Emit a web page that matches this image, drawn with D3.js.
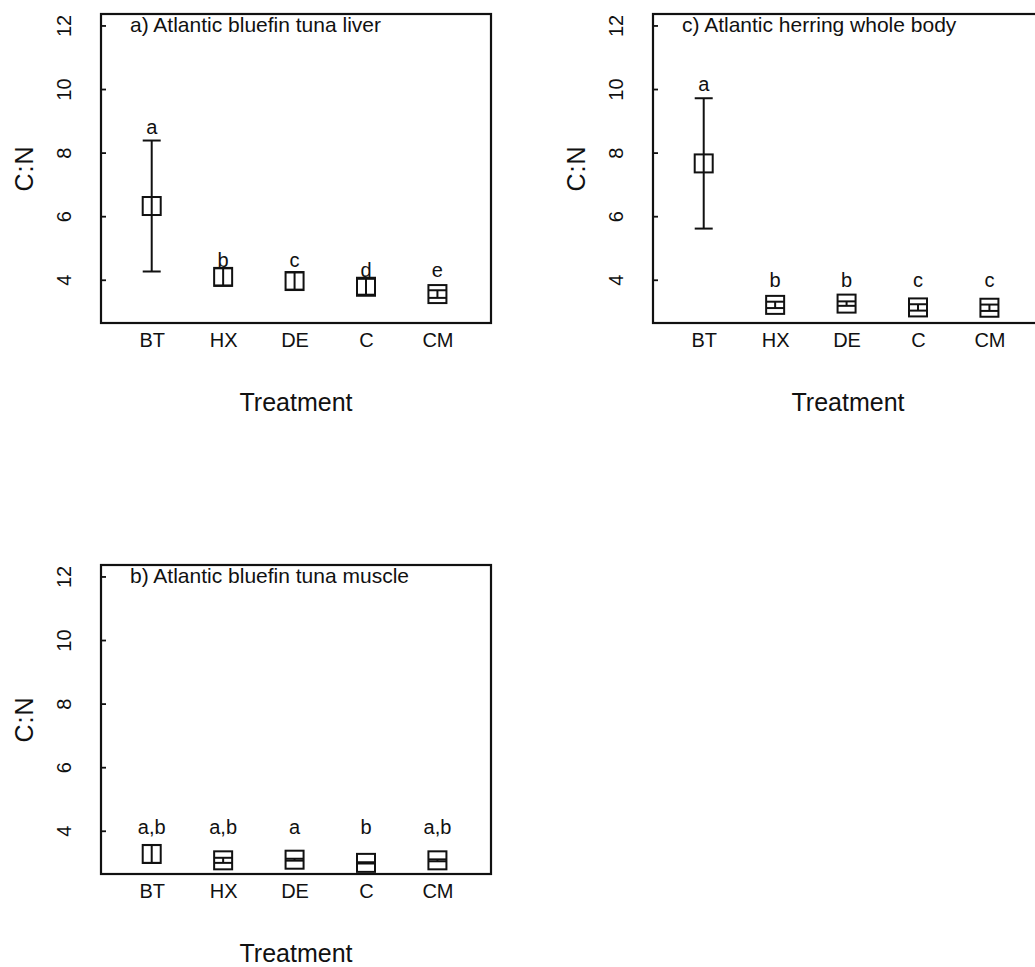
<!DOCTYPE html>
<html>
<head>
<meta charset="utf-8">
<script src="https://cdn.jsdelivr.net/npm/d3@7"></script>
<style>
  html, body { margin: 0; padding: 0; background: #fff; }
  svg { display: block; }
  text { font-family: "Liberation Sans", Arial, sans-serif; fill: #111; }
</style>
</head>
<body>
<svg id="chart" width="1035" height="967"></svg>
<script>
// Treatments shared by every panel
const treatments = ["BT", "HX", "DE", "C", "CM"];
const yTicks = [4, 6, 8, 10, 12];

// a) Atlantic bluefin tuna liver
const liverMean = [6.32, 4.09, 3.96, 3.78, 3.55];
const liverSE = [2.06, 0.27, 0.27, 0.25, 0.12];
const liverLetters = ["a", "b", "c", "d", "e"];
const liverLetterLevel = [8.58, 4.41, 4.41, 4.1, 4.08];

// b) Atlantic bluefin tuna muscle
const muscleMean = [3.27, 3.07, 3.09, 2.99, 3.07];
const muscleSE = [0.28, 0.08, 0.03, 0.02, 0.03];
const muscleLetters = ["a,b", "a,b", "a", "b", "a,b"];
const muscleLetterLevel = [3.9, 3.9, 3.9, 3.9, 3.9];

// c) Atlantic herring whole body
const herringMean = [7.66, 3.21, 3.25, 3.13, 3.12];
const herringSE = [2.05, 0.1, 0.07, 0.1, 0.1];
const herringLetters = ["a", "b", "b", "c", "c"];
const herringLetterLevel = [9.95, 3.78, 3.78, 3.78, 3.78];

const panels = [
  { title: "a) Atlantic bluefin tuna liver", mean: liverMean, se: liverSE,
    letters: liverLetters, letterLevel: liverLetterLevel, left: 101, top: 14 },
  { title: "c) Atlantic herring whole body", mean: herringMean, se: herringSE,
    letters: herringLetters, letterLevel: herringLetterLevel, left: 653, top: 14 },
  { title: "b) Atlantic bluefin tuna muscle", mean: muscleMean, se: muscleSE,
    letters: muscleLetters, letterLevel: muscleLetterLevel, left: 101, top: 565 }
];

const W = 390, H = 309;
const ink = "#111";
const svg = d3.select("#chart");

panels.forEach(p => {
  const g = svg.append("g").attr("transform", `translate(${p.left},${p.top})`);

  const x = d3.scaleLinear().domain([0.29, 5.75]).range([0, W]);
  const y = d3.scaleLinear().domain([2.64, 12.36]).range([H, 0]);

  // y axis: inward ticks, labels rotated as in base R graphics
  const yAxis = d3.axisLeft(y).tickValues(yTicks).tickSize(-5).tickPadding(0)
    .tickFormat(d3.format("d"));
  const ya = g.append("g").call(yAxis);
  ya.select(".domain").remove();
  ya.selectAll(".tick line").attr("stroke", ink).attr("stroke-width", 1.8);
  ya.selectAll(".tick text")
    .attr("x", null).attr("dy", null)
    .attr("transform", "translate(-30,0) rotate(-90)")
    .attr("text-anchor", "middle")
    .attr("font-size", 20)
    .style("font-family", "Liberation Sans, Arial, sans-serif")
    .attr("fill", ink);

  // x axis: category labels only
  const xAxis = d3.axisBottom(x).tickValues(d3.range(1, treatments.length + 1))
    .tickSize(0).tickPadding(0).tickFormat(d => treatments[d - 1]);
  const xa = g.append("g").attr("transform", `translate(0,${H})`).call(xAxis);
  xa.select(".domain").remove();
  xa.selectAll(".tick text")
    .attr("y", 24).attr("dy", null)
    .attr("font-size", 20)
    .style("font-family", "Liberation Sans, Arial, sans-serif")
    .attr("fill", ink);

  // frame
  g.append("rect").attr("x", 0).attr("y", 0).attr("width", W).attr("height", H)
    .attr("fill", "none").attr("stroke", ink).attr("stroke-width", 2.2);

  // axis titles
  g.append("text").attr("x", W / 2).attr("y", H + 88)
    .attr("text-anchor", "middle").attr("font-size", 25).text("Treatment");
  g.append("text")
    .attr("transform", `translate(-68,${H / 2}) rotate(-90)`)
    .attr("text-anchor", "middle").attr("font-size", 25)
    .attr("letter-spacing", 1).text("C:N");

  // panel title
  g.append("text").attr("x", 29).attr("y", 18).attr("font-size", 21).text(p.title);

  const rows = treatments.map((t, i) => ({
    i: i + 1, mean: p.mean[i], lo: p.mean[i] - p.se[i], hi: p.mean[i] + p.se[i],
    letter: p.letters[i], level: p.letterLevel[i]
  }));

  const cap = 9, half = 9;
  const marks = g.append("g").attr("stroke", ink).attr("stroke-width", 2).attr("fill", "none");

  // error bars
  marks.selectAll(".bar").data(rows).join("line")
    .attr("x1", d => x(d.i)).attr("x2", d => x(d.i))
    .attr("y1", d => y(d.lo)).attr("y2", d => y(d.hi));
  marks.selectAll(".capHi").data(rows).join("line")
    .attr("x1", d => x(d.i) - cap).attr("x2", d => x(d.i) + cap)
    .attr("y1", d => y(d.hi)).attr("y2", d => y(d.hi));
  marks.selectAll(".capLo").data(rows).join("line")
    .attr("x1", d => x(d.i) - cap).attr("x2", d => x(d.i) + cap)
    .attr("y1", d => y(d.lo)).attr("y2", d => y(d.lo));

  // mean markers (open squares)
  marks.selectAll("rect.mean").data(rows).join("rect")
    .attr("class", "mean")
    .attr("x", d => x(d.i) - half).attr("y", d => y(d.mean) - half)
    .attr("width", half * 2).attr("height", half * 2);

  // significance letters
  g.selectAll("text.letter").data(rows).join("text")
    .attr("class", "letter")
    .attr("x", d => x(d.i)).attr("y", d => y(d.level))
    .attr("text-anchor", "middle").attr("font-size", 20)
    .text(d => d.letter);
});
</script>
</body>
</html>
